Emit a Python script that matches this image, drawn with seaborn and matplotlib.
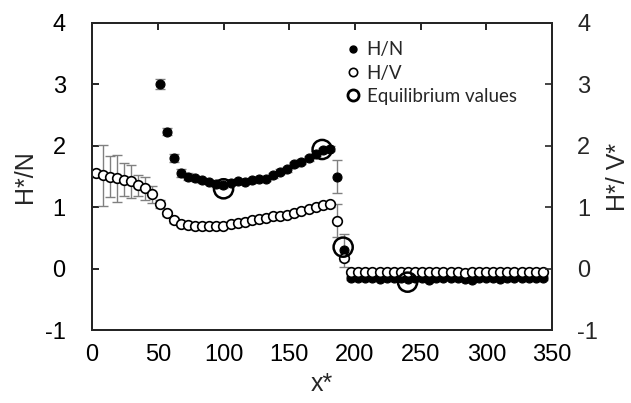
import numpy as np
import pandas as pd
import matplotlib
matplotlib.use("Agg")
import matplotlib.pyplot as plt
from matplotlib.lines import Line2D
import seaborn as sns

# ---------------- data ----------------
x_pos = [2.7, 8.1, 13.5, 18.9, 24.3, 29.7, 35.1, 40.5, 45.9, 51.3,
         56.7, 62.1, 67.5, 72.9, 78.3, 83.7, 89.1, 94.5, 99.9, 105.3,
         110.7, 116.1, 121.5, 126.9, 132.3, 137.7, 143.1, 148.5, 153.9, 159.3,
         164.7, 170.1, 175.5, 180.9, 186.3, 191.7, 197.1, 202.5, 207.9, 213.3,
         218.7, 224.1, 229.5, 234.9, 240.3, 245.7, 251.1, 256.5, 261.9, 267.3,
         272.7, 278.1, 283.5, 288.9, 294.3, 299.7, 305.1, 310.5, 315.9, 321.3,
         326.7, 332.1, 337.5, 342.9]

hv_vals = [1.55, 1.52, 1.50, 1.47, 1.45, 1.42, 1.36, 1.31, 1.21, 1.05,
           0.90, 0.79, 0.73, 0.71, 0.70, 0.70, 0.69, 0.69, 0.70, 0.73,
           0.74, 0.76, 0.79, 0.81, 0.83, 0.85, 0.86, 0.88, 0.91, 0.94,
           0.97, 1.00, 1.04, 1.05, 0.78, 0.17,
           -0.06, -0.05, -0.05, -0.06, -0.05, -0.05, -0.06, -0.05, -0.05, -0.06,
           -0.05, -0.05, -0.05, -0.06, -0.05, -0.05, -0.07, -0.05, -0.05, -0.06,
           -0.05, -0.05, -0.05, -0.06, -0.05, -0.05, -0.05, -0.05]
hv_err = [0.05, 0.50, 0.33, 0.38, 0.27, 0.27, 0.17, 0.19, 0.14, 0.06,
          0.04, 0.04, 0.03, 0.03, 0.03, 0.03, 0.03, 0.03, 0.03, 0.03,
          0.03, 0.03, 0.03, 0.03, 0.03, 0.03, 0.03, 0.03, 0.03, 0.03,
          0.03, 0.03, 0.04, 0.04, 0.27, 0.05,
          0.02, 0.02, 0.02, 0.02, 0.02, 0.02, 0.02, 0.02, 0.02, 0.02,
          0.02, 0.02, 0.02, 0.02, 0.02, 0.02, 0.02, 0.02, 0.02, 0.02,
          0.02, 0.02, 0.02, 0.02, 0.02, 0.02, 0.02, 0.02]

hn_start = 9  # H/N begins at the 10th x position
hn_vals = [3.00, 2.23, 1.80, 1.56, 1.50, 1.47, 1.44, 1.41, 1.37, 1.36,
           1.40, 1.42, 1.41, 1.44, 1.46, 1.46, 1.52, 1.58, 1.62, 1.70,
           1.74, 1.80, 1.87, 1.93, 1.95, 1.50, 0.30,
           -0.15, -0.16, -0.15, -0.15, -0.17, -0.15, -0.16, -0.15, -0.17, -0.15,
           -0.15, -0.18, -0.15, -0.16, -0.15, -0.15, -0.17, -0.18, -0.16, -0.15,
           -0.15, -0.17, -0.15, -0.16, -0.15, -0.15, -0.16, -0.15]
hn_err = [0.08, 0.06, 0.07, 0.06, 0.05, 0.04, 0.04, 0.04, 0.04, 0.04,
          0.04, 0.04, 0.04, 0.04, 0.04, 0.04, 0.04, 0.04, 0.04, 0.04,
          0.04, 0.04, 0.04, 0.04, 0.04, 0.27, 0.27,
          0.03, 0.03, 0.03, 0.03, 0.03, 0.03, 0.03, 0.03, 0.03, 0.03,
          0.03, 0.03, 0.03, 0.03, 0.03, 0.03, 0.03, 0.03, 0.03, 0.03,
          0.03, 0.03, 0.03, 0.03, 0.03, 0.03, 0.03, 0.03]

eq_x = [100, 175, 191, 240]
eq_y = [1.30, 1.94, 0.35, -0.22]

x_ticks = [0, 50, 100, 150, 200, 250, 300, 350]
y_ticks = [-1, 0, 1, 2, 3, 4]

# ---------------- style ----------------
sns.set_style("white")
plt.rcParams['font.family'] = ['Liberation Sans', 'DejaVu Sans']
plt.rcParams['axes.unicode_minus'] = False

df_hv = pd.DataFrame({"x": x_pos, "y": hv_vals, "err": hv_err})
df_hn = pd.DataFrame({"x": x_pos[hn_start:], "y": hn_vals, "err": hn_err})
df_eq = pd.DataFrame({"x": eq_x, "y": eq_y})

fig = plt.figure(figsize=(6.31, 4.03), dpi=100)
ax = fig.add_axes([0.146, 0.181, 0.729, 0.762])

err_kw = dict(fmt='none', ecolor='#808080', elinewidth=1.0, capsize=3.5, capthick=1.0)
ax.errorbar(df_hn["x"], df_hn["y"], yerr=df_hn["err"], zorder=2, **err_kw)
sns.scatterplot(data=df_hn, x="x", y="y", ax=ax, color='black', edgecolor='black',
                s=42, linewidth=0.8, zorder=3, legend=False)
ax.errorbar(df_hv["x"], df_hv["y"], yerr=df_hv["err"], zorder=4, **err_kw)
sns.scatterplot(data=df_hv, x="x", y="y", ax=ax, color='white', edgecolor='black',
                s=48, linewidth=1.2, zorder=5, legend=False)
sns.scatterplot(data=df_eq, x="x", y="y", ax=ax, facecolor='none', edgecolor='black',
                s=190, linewidth=1.8, zorder=6, legend=False)

ax.set_xlim(0, 350)
ax.set_ylim(-1, 4)
ax.set_xticks(x_ticks)
ax.set_yticks(y_ticks)
ax.set_xlabel("x*", fontsize=18, labelpad=4)
ax.set_ylabel("H*/N", fontsize=18, labelpad=6)
ax.tick_params(axis='both', which='both', direction='in', length=5, width=1.2,
               labelsize=17, top=True, colors='black')
ax.tick_params(axis='x', pad=10)
ax.tick_params(axis='y', pad=19)
for s in ax.spines.values():
    s.set_visible(True)
    s.set_linewidth(1.4)
    s.set_color('black')

ax2 = ax.twinx()
ax2.set_ylim(-1, 4)
ax2.set_yticks(y_ticks)
ax2.set_ylabel("H*/ V*", fontsize=18, labelpad=6)
ax2.tick_params(axis='y', direction='in', length=5, width=1.2, labelsize=17, pad=18)
for s in ax2.spines.values():
    s.set_linewidth(1.4)

handles = [
    Line2D([], [], linestyle='none', marker='o', markersize=5, markerfacecolor='black',
           markeredgecolor='black'),
    Line2D([], [], linestyle='none', marker='o', markersize=6, markerfacecolor='white',
           markeredgecolor='black', markeredgewidth=1.2),
    Line2D([], [], linestyle='none', marker='o', markersize=8, markerfacecolor='none',
           markeredgecolor='black', markeredgewidth=2.0),
]
labels = ["H/N", "H/V", "Equilibrium values"]
leg = ax.legend(handles, labels, loc='upper left', bbox_to_anchor=(0.515, 0.995),
                frameon=False, handlelength=0.8, handletextpad=0.3, labelspacing=0.33,
                prop={'family': 'Lato', 'size': 13.5})

fig.savefig("out.png", dpi=100)
